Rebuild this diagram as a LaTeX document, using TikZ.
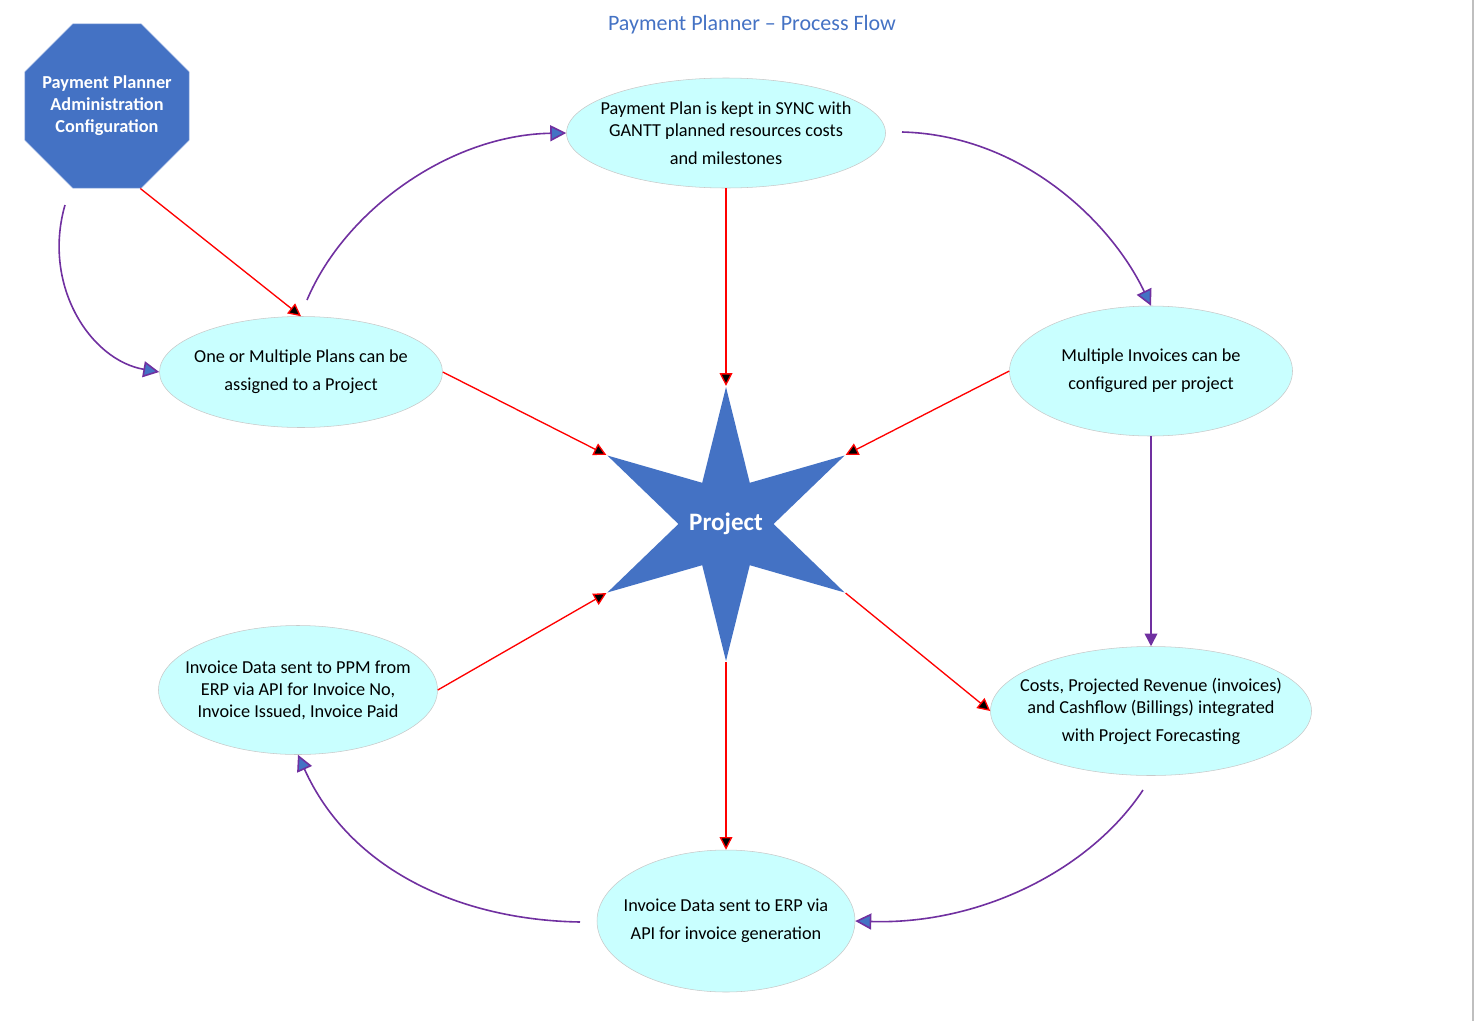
\documentclass[tikz,border=0pt]{standalone}
\usepackage{fontspec}
\setmainfont{Carlito}
\usetikzlibrary{shapes.geometric,arrows.meta}
\definecolor{ppblue}{HTML}{4472C4}
\definecolor{pppurple}{HTML}{7030A0}
\definecolor{ppcyan}{HTML}{C9FFFF}
\definecolor{ppedge}{HTML}{C8C8C8}
\definecolor{octedge}{HTML}{8FAADC}
\tikzstyle{admin} = [regular polygon, regular polygon sides=8, draw=octedge, fill=ppblue, text=white, inner sep=-18pt, minimum size=133.5pt, align=center, font=\fontsize{13.7}{16.5}\selectfont\bfseries]
\tikzstyle{hub} = [star, star points=6, star point ratio=2.88, fill=ppblue, text=white, inner xsep=-18pt, inner ysep=-6pt, minimum size=205.5pt, font=\fontsize{18.8}{22}\selectfont\bfseries]
\tikzstyle{stage} = [ellipse, draw=ppedge, fill=ppcyan, align=center, inner xsep=-36pt, inner ysep=-14pt, font=\fontsize{13.7}{16.5}\selectfont]
\tikzstyle{feed} = [line width=1pt, red, -{Triangle[length=9.5pt,width=9.5pt,fill=black]}]
\tikzstyle{cycle} = [line width=1.2pt, pppurple, -{Triangle[length=12pt,width=12pt,fill=ppblue]}]
\tikzstyle{cycledown} = [line width=1.2pt, pppurple, -{Triangle[length=9.5pt,width=9.5pt,fill=pppurple]}]

\begin{document}
\begin{tikzpicture}[x=0.75pt,y=-0.75pt]
            \useasboundingbox (0,0) rectangle (1475,1021);
            \draw [gray!50, line width=0.8pt] (1473,0) -- (1473,1021);
            \node (title) [text=ppblue, font=\fontsize{16.5}{20}\selectfont] at (752,25) {Payment Planner -- Process Flow};
            \node (project) [hub] at (726,524) {Project};
            \node (admin) [admin] at (107,106) {Payment Planner\\Administration\\Configuration};
            \node (payplan) [stage, minimum width=239.25pt, minimum height=82.5pt] at (726,133) {Payment Plan is kept in SYNC with\\GANTT planned resources costs\\[4.5pt]and milestones};
            \node (plans) [stage, minimum width=212.25pt, minimum height=83.25pt] at (301,372) {One or Multiple Plans can be\\[4.5pt]assigned to a Project};
            \node (invoices) [stage, minimum width=212.25pt, minimum height=97.5pt] at (1151,371) {Multiple Invoices can be\\[4.5pt]configured per project};
            \node (costs) [stage, minimum width=240.75pt, minimum height=96.75pt] at (1151,711) {Costs, Projected Revenue (invoices)\\and Cashflow (Billings) integrated\\[4.5pt]with Project Forecasting};
            \node (erp) [stage, minimum width=193.5pt, minimum height=106.5pt] at (726,921) {Invoice Data sent to ERP via\\[4.5pt]API for invoice generation};
            \node (ppm) [stage, minimum width=209.25pt, minimum height=96.75pt] at (298,690) {Invoice Data sent to PPM from\\ERP via API for Invoice No,\\Invoice Issued, Invoice Paid};
            \coordinate (adminout) at (65,205);
            \coordinate (plansout) at (307,300);
            \coordinate (payplanout) at (902,132);
            \coordinate (costsout) at (1143,790);
            \coordinate (erpout) at (580,922);
            \draw [feed] (admin.292.5) -- (plans.north);
            \draw [feed] (payplan.south) -- (project.outer point 1);
            \draw [feed] (plans.east) -- (project.outer point 2);
            \draw [feed] (invoices.west) -- (project.outer point 6);
            \draw [feed] (ppm.east) -- (project.outer point 3);
            \draw [feed] (project.outer point 5) -- (costs.west);
            \draw [feed] (project.outer point 4) -- (erp.north);
            \draw [cycle] (adminout) .. controls (42,285) and (90,360) .. (plans.west);
            \draw [cycle] (plansout) .. controls (345,210) and (450,135) .. (payplan.west);
            \draw [cycle] (payplanout) .. controls (1020,135) and (1110,220) .. (invoices.north);
            \draw [cycledown] (invoices.south) -- (costs.north);
            \draw [cycle] (costsout) .. controls (1090,870) and (980,925) .. (erp.east);
            \draw [cycle] (erpout) .. controls (460,920) and (350,870) .. (ppm.south);
\end{tikzpicture}
\end{document}
